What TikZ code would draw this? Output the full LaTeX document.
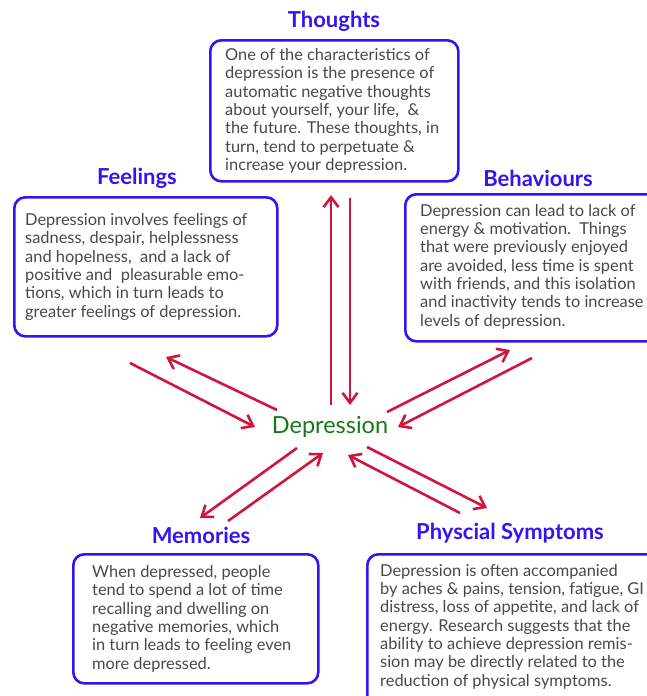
\documentclass[tikz,border=0pt]{standalone}
\usepackage{fontspec}
\setmainfont{Lato}
\usetikzlibrary{arrows.meta}
\definecolor{boxblue}{RGB}{52,20,240}
\definecolor{txtgray}{RGB}{72,72,72}
\definecolor{arrred}{RGB}{208,22,62}
\definecolor{depgreen}{RGB}{22,122,22}
\tikzset{
  box/.style={draw=boxblue, line width=2.6pt, rounded corners=11pt, anchor=north west, inner sep=0pt},
  body/.style={text=txtgray, align=left, inner sep=0pt, font=\fontsize{16.4}{18.3}\selectfont},
  title/.style={text=boxblue, inner sep=0pt, font=\fontsize{22}{26}\selectfont\bfseries},
  arr/.style={draw=arrred, line width=2.6pt, -{Straight Barb[length=10pt,width=15pt]}},
}
\begin{document}
\begin{tikzpicture}[x=1pt,y=-1pt]
\useasboundingbox (0,0) rectangle (647,696);
% boxes
\node[box, minimum width=248pt, minimum height=141pt] (tbox) at (209,39) {};
\node[box, minimum width=263pt, minimum height=139pt] (fbox) at (13,196) {};
\node[box, minimum width=260pt, minimum height=147pt] (bbox) at (404,193) {};
\node[box, minimum width=245pt, minimum height=129pt] (mbox) at (72,553) {};
\node[box, minimum width=300pt, minimum height=160pt] (pbox) at (366,553) {};
% titles
\node[title] (ttitle) at (334,21) {Thoughts};
\node[title] (ftitle) at (137,178) {Feelings};
\node[title] (btitle) at (538,178) {Behaviours};
\node[title] (mtitle) at (201,535) {Memories};
\node[title] (ptitle) at (510,533) {Physcial Symptoms};
% body texts
\node[body, anchor=west] (ttext) at ([xshift=16pt]tbox.west) {One of the characteristics of\\depression is the presence of\\automatic negative thoughts\\about yourself, your life,\ \ \&\\the future. These thoughts, in\\turn, tend to perpetuate \&\\increase your depression.};
\node[body, anchor=west] (ftext) at ([xshift=12pt]fbox.west) {Depression involves feelings of\\sadness, despair, helplessness\\and hopelness,\ \ and a lack of\\positive and\ \ pleasurable emo-\\tions, which in turn leads to\\greater feelings of depression.};
\node[body, anchor=north west] (btext) at (420,204) {Depression can lead to lack of\\energy \& motivation.\ \ Things\\that were previously enjoyed\\are avoided, less time is spent\\with friends, and this isolation\\and inactivity tends to increase\\levels of depression.};
\node[body, anchor=west] (mtext) at ([xshift=20pt]mbox.west) {When depressed, people\\tend to spend a lot of time\\recalling and dwelling on\\negative memories, which\\in turn leads to feeling even\\more depressed.};
\node[body, anchor=north west] (ptext) at (380,564) {Depression is often accompanied\\by aches \& pains, tension, fatigue, GI\\distress, loss of appetite, and lack of\\energy. Research suggests that the\\ability to achieve depression remis-\\sion may be directly related to the\\reduction of physical symptoms.};
% center
\node[text=depgreen, inner sep=0pt, font=\fontsize{23.5}{27}\selectfont] (dep) at (330,427) {Depression};
% arrow end points
\coordinate (tu1) at (331,405); \coordinate (tu2) at (331,195);
\coordinate (td1) at (350,198); \coordinate (td2) at (350,405);
\coordinate (fa1) at (130,363); \coordinate (fa2) at (255,427);
\coordinate (fb1) at (277,410); \coordinate (fb2) at (166,357);
\coordinate (ba1) at (387,412); \coordinate (ba2) at (510,350);
\coordinate (bb1) at (532,358); \coordinate (bb2) at (398,427);
\coordinate (ma1) at (297,448); \coordinate (ma2) at (200,518);
\coordinate (mb1) at (228,521); \coordinate (mb2) at (323,453);
\coordinate (pa1) at (367,447); \coordinate (pa2) at (487,508);
\coordinate (pb1) at (460,513); \coordinate (pb2) at (348,455);
\draw[arr] (tu1) -- (tu2);
\draw[arr] (td1) -- (td2);
\draw[arr] (fa1) -- (fa2);
\draw[arr] (fb1) -- (fb2);
\draw[arr] (ba1) -- (ba2);
\draw[arr] (bb1) -- (bb2);
\draw[arr] (ma1) -- (ma2);
\draw[arr] (mb1) -- (mb2);
\draw[arr] (pa1) -- (pa2);
\draw[arr] (pb1) -- (pb2);
\end{tikzpicture}
\end{document}
